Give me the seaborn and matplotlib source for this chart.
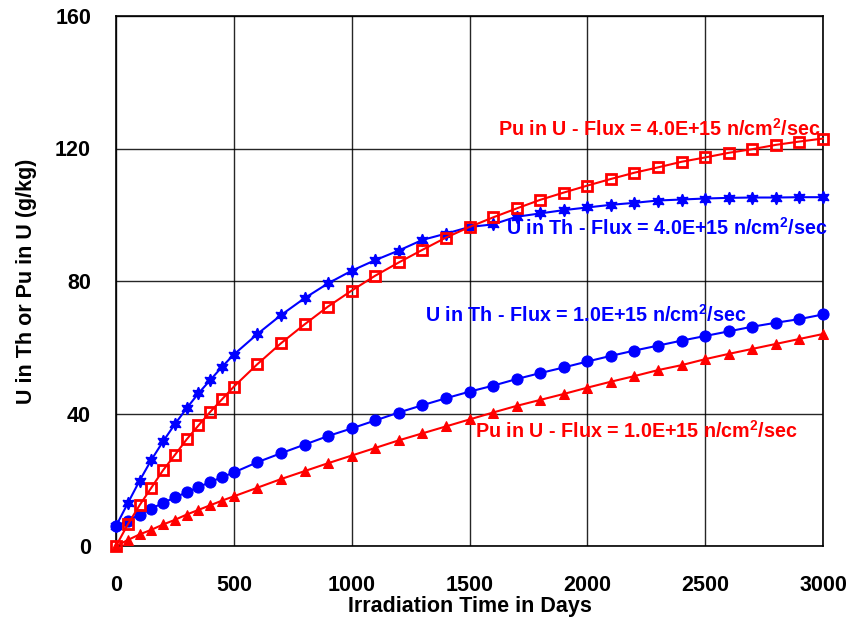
import numpy as np
import pandas as pd
import matplotlib
matplotlib.use("Agg")
import matplotlib.pyplot as plt
from matplotlib.ticker import MultipleLocator
import seaborn as sns

# Irradiation times (days): every 50 days up to 500, then every 100 days
days = [0, 50, 100, 150, 200, 250, 300, 350, 400, 450, 500,
        600, 700, 800, 900, 1000, 1100, 1200, 1300, 1400, 1500,
        1600, 1700, 1800, 1900, 2000, 2100, 2200, 2300, 2400, 2500,
        2600, 2700, 2800, 2900, 3000]

# U in Th, flux 4.0E+15 n/cm2/sec (g/kg)
u_th_4e15 = [6.0, 12.9, 19.7, 26.0, 31.6, 36.8, 41.6, 46.1, 50.1, 54.1, 57.8,
             64.0, 69.7, 74.8, 79.3, 83.1, 86.3, 89.2, 92.4, 94.3, 96.3,
             97.1, 99.4, 100.4, 101.4, 102.2, 103.0, 103.6, 104.3, 104.6, 104.9,
             105.1, 105.2, 105.2, 105.3, 105.3]

# Pu in U, flux 4.0E+15 n/cm2/sec (g/kg)
pu_u_4e15 = [0.0, 6.5, 12.3, 17.6, 22.9, 27.5, 32.2, 36.4, 40.5, 44.3, 48.1,
             54.9, 61.2, 66.9, 72.3, 77.1, 81.6, 85.6, 89.4, 93.1, 96.3,
             99.2, 101.9, 104.5, 106.7, 108.8, 110.8, 112.7, 114.3, 116.0, 117.3,
             118.7, 119.8, 121.1, 122.1, 123.0]

# U in Th, flux 1.0E+15 n/cm2/sec (g/kg)
u_th_1e15 = [6.0, 7.6, 9.5, 11.3, 13.0, 14.7, 16.2, 17.8, 19.3, 20.8, 22.2,
             25.3, 28.0, 30.6, 33.2, 35.5, 37.9, 40.3, 42.5, 44.6, 46.6,
             48.4, 50.4, 52.2, 53.9, 55.7, 57.4, 59.0, 60.5, 62.0, 63.4,
             64.8, 66.2, 67.4, 68.5, 69.9]

# Pu in U, flux 1.0E+15 n/cm2/sec (g/kg)
pu_u_1e15 = [0.0, 1.8, 3.5, 4.9, 6.5, 7.9, 9.5, 10.9, 12.3, 13.7, 15.0,
             17.6, 20.2, 22.6, 25.0, 27.3, 29.6, 31.9, 34.0, 36.1, 38.2,
             40.3, 42.3, 44.1, 45.9, 47.8, 49.6, 51.3, 53.1, 54.6, 56.4,
             58.0, 59.5, 61.0, 62.5, 64.0]

x_ticks = [0, 500, 1000, 1500, 2000, 2500, 3000]
y_ticks = [0, 40, 80, 120, 160]

x_title = "Irradiation Time in Days"
y_title = "U in Th or Pu in U (g/kg)"

series_labels = [
    "Pu in U - Flux = 4.0E+15 n/cm$^{\\mathbf{2}}$/sec",
    "U in Th - Flux = 4.0E+15 n/cm$^{\\mathbf{2}}$/sec",
    "U in Th - Flux = 1.0E+15 n/cm$^{\\mathbf{2}}$/sec",
    "Pu in U - Flux = 1.0E+15 n/cm$^{\\mathbf{2}}$/sec",
]

sns.set_style("white")
plt.rcParams["font.family"] = ["Liberation Sans", "DejaVu Sans"]
plt.rcParams["font.weight"] = "bold"
plt.rcParams["text.color"] = "black"
plt.rcParams["axes.labelcolor"] = "black"
plt.rcParams["xtick.color"] = "black"
plt.rcParams["ytick.color"] = "black"
plt.rcParams["mathtext.fontset"] = "custom"
plt.rcParams["mathtext.rm"] = "Liberation Sans:bold"
plt.rcParams["mathtext.bf"] = "Liberation Sans:bold"
plt.rcParams["mathtext.it"] = "Liberation Sans:bold"

BLUE = "#0000ff"
RED = "#ff0000"

fig = plt.figure(figsize=(8.47, 6.19), dpi=100)
ax = fig.add_axes([116 / 847, 1 - 546 / 619, (823 - 116) / 847, (546 - 16) / 619])

df = pd.DataFrame({
    "days": days,
    "u_th_4e15": u_th_4e15,
    "pu_u_4e15": pu_u_4e15,
    "u_th_1e15": u_th_1e15,
    "pu_u_1e15": pu_u_1e15,
})

lw = 1.5
sns.lineplot(data=df, x="days", y="pu_u_1e15", ax=ax, color=RED, lw=lw,
             marker="^", markersize=7, markeredgecolor=RED, markerfacecolor=RED,
             clip_on=False, zorder=5)
sns.lineplot(data=df, x="days", y="u_th_1e15", ax=ax, color=BLUE, lw=lw,
             marker="o", markersize=8, markeredgecolor=BLUE, markerfacecolor=BLUE,
             clip_on=False, zorder=5)
sns.lineplot(data=df, x="days", y="u_th_4e15", ax=ax, color=BLUE, lw=lw,
             marker=(6, 1, 0), markersize=9, markeredgecolor=BLUE, markerfacecolor=BLUE,
             markeredgewidth=1.0, clip_on=False, zorder=6)
sns.lineplot(data=df, x="days", y="pu_u_4e15", ax=ax, color=RED, lw=lw,
             marker="s", markersize=7, markeredgecolor=RED, markerfacecolor="none",
             markeredgewidth=2.0, clip_on=False, zorder=7)

ax.set_xlim(0, 3000)
ax.set_ylim(0, 160)
ax.set_xticks(x_ticks)
ax.set_yticks(y_ticks)
ax.xaxis.set_minor_locator(MultipleLocator(250))
ax.yaxis.set_minor_locator(MultipleLocator(20))
ax.tick_params(axis="both", which="major", direction="out", length=13, width=1.0,
               color="black", labelcolor="black", labelsize=15.5)
ax.tick_params(axis="both", which="minor", direction="out", length=6.5, width=1.0,
               color="black")
ax.tick_params(axis="y", which="major", pad=5)
ax.tick_params(axis="x", which="major", pad=8)
for lab in ax.get_xticklabels() + ax.get_yticklabels():
    lab.set_fontweight("bold")

ax.grid(True, which="major", color="black", lw=1.0, alpha=0.85)
ax.set_axisbelow(True)
for sp in ax.spines.values():
    sp.set_visible(True)
    sp.set_color("black")
    sp.set_linewidth(1.2)

ax.set_xlabel(x_title, fontsize=15.5, fontweight="bold", color="black", labelpad=0)
ax.set_ylabel(y_title, fontsize=15.5, fontweight="bold", color="black", labelpad=13)

# Curve labels, placed beside their curves
label_pos = [(1621, 123.8, RED), (1655, 93.9, BLUE), (1311, 67.7, BLUE), (1523, 32.7, RED)]
for text, (lx, ly, c) in zip(series_labels, label_pos):
    ax.text(lx, ly, text, color=c, fontsize=14.2, fontweight="bold",
            ha="left", va="baseline", zorder=10)

fig.savefig("out.png", dpi=100)
